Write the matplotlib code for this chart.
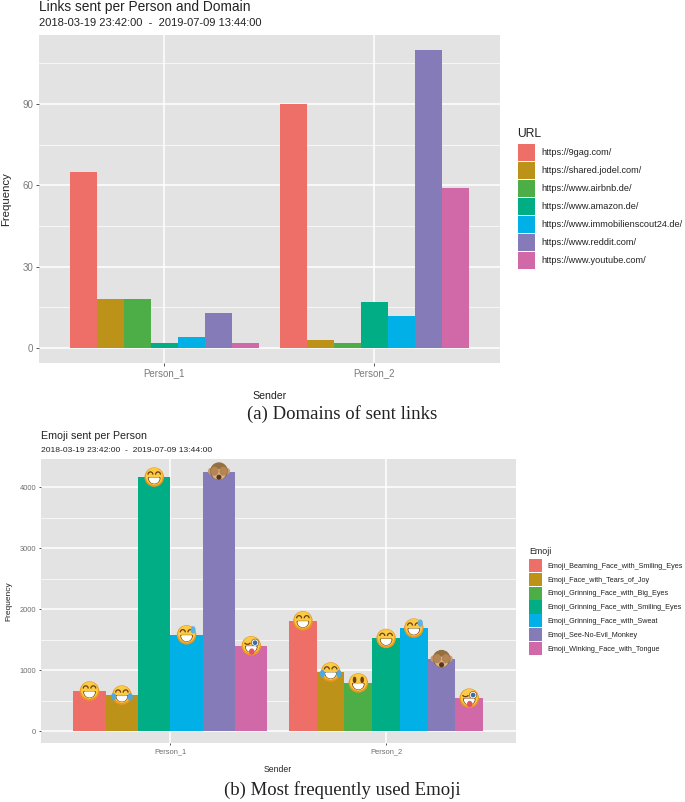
import matplotlib
matplotlib.use('Agg')
import matplotlib.pyplot as plt
from matplotlib.patches import Patch, Circle, Ellipse, Wedge, Arc
from matplotlib.offsetbox import AnnotationBbox, DrawingArea

plt.rcParams['font.family'] = ['Liberation Sans', 'DejaVu Sans']

W, H = 685, 802

people = ['Person_1', 'Person_2']
colors = ['#EE6F68', '#BD9218', '#4DAD46', '#00AD84', '#00B0E6', '#857BB8', '#D168A8']

urls = ['https://9gag.com/', 'https://shared.jodel.com/', 'https://www.airbnb.de/',
        'https://www.amazon.de/', 'https://www.immobilienscout24.de/',
        'https://www.reddit.com/', 'https://www.youtube.com/']
links_p1 = [65, 18, 18, 2, 4, 13, 2]
links_p2 = [90, 3, 2, 17, 12, 110, 59]

emoji_names = ['Emoji_Beaming_Face_with_Smiling_Eyes', 'Emoji_Face_with_Tears_of_Joy',
               'Emoji_Grinning_Face_with_Big_Eyes', 'Emoji_Grinning_Face_with_Smiling_Eyes',
               'Emoji_Grinning_Face_with_Sweat', 'Emoji_See-No-Evil_Monkey',
               'Emoji_Winking_Face_with_Tongue']
emoji_p1 = [657, 590, None, 4170, 1580, 4260, 1400]
emoji_p2 = [1810, 970, 790, 1520, 1690, 1180, 540]
emoji_kinds = ['beam', 'tears', 'big', 'smile', 'sweat', 'monkey', 'wink']


def px_axes(fig, left, top, right, bottom):
    return fig.add_axes([left / W, 1 - bottom / H, (right - left) / W, (bottom - top) / H])


def dodged_bars(ax, series, width=0.9):
    # like position_dodge: a missing group makes the others wider
    spots = []
    for i, vals in enumerate(series):
        present = [k for k, v in enumerate(vals) if v is not None]
        w = width / len(present)
        for n, k in enumerate(present):
            x = i - width / 2 + w * (n + 0.5)
            ax.bar(x, vals[k], w, color=colors[k], linewidth=0)
            spots.append((x, vals[k], k))
    return spots


def style_panel(ax, major, minor, ylim, tick_size, tick_color, tick_len):
    ax.set_facecolor('#E3E3E3')
    for s in ax.spines.values():
        s.set_visible(False)
    ax.set_axisbelow(True)
    ax.set_xlim(-0.6, 1.6)
    ax.set_ylim(*ylim)
    ax.set_xticks([0, 1], people)
    ax.set_yticks(major)
    ax.set_yticks(minor, minor=True)
    ax.grid(True, which='major', color='white', linewidth=1.1)
    ax.grid(True, which='minor', axis='y', color='white', linewidth=0.5)
    ax.tick_params(which='minor', length=0)
    ax.tick_params(which='major', labelsize=tick_size, labelcolor=tick_color, color='#555555',
                   length=tick_len, width=0.7, pad=2)


def emoji_art(kind, r=6.5):
    size = 2 * r + 6
    da = DrawingArea(size, size, 0, 0)
    c = size / 2
    dark = '#6B3F12'
    if kind == 'monkey':
        da.add_artist(Circle((c - r * 0.85, c + r * 0.05), r * 0.3, color='#C99B6E'))
        da.add_artist(Circle((c + r * 0.85, c + r * 0.05), r * 0.3, color='#C99B6E'))
        da.add_artist(Circle((c, c + r * 0.05), r * 0.9, color='#94703F'))
        da.add_artist(Ellipse((c, c - r * 0.3), r * 1.3, r * 1.0, color='#D8B48C'))
        da.add_artist(Ellipse((c - r * 0.48, c + r * 0.05), r * 0.72, r * 0.85, color='#B58654'))
        da.add_artist(Ellipse((c + r * 0.48, c + r * 0.05), r * 0.72, r * 0.85, color='#B58654'))
        da.add_artist(Ellipse((c, c - r * 0.62), r * 0.4, r * 0.4, color='#5A3418'))
        return da
    da.add_artist(Circle((c, c), r, color='#EE9A22'))
    da.add_artist(Circle((c, c + r * 0.08), r * 0.86, color='#FBCB45'))
    ex, ey = r * 0.42, r * 0.34
    if kind == 'big':
        da.add_artist(Ellipse((c - ex, c + ey), r * 0.24, r * 0.55, color=dark))
        da.add_artist(Ellipse((c + ex, c + ey), r * 0.24, r * 0.55, color=dark))
    elif kind == 'wink':
        da.add_artist(Arc((c - ex, c + ey), r * 0.6, r * 0.35, theta1=180, theta2=360, color=dark, lw=0.9))
        da.add_artist(Circle((c + ex, c + ey), r * 0.4, fc='white', ec=dark, lw=0.4))
        da.add_artist(Circle((c + ex, c + ey), r * 0.18, color='#3A6EA5'))
    else:
        da.add_artist(Arc((c - ex, c + ey * 0.8), r * 0.55, r * 0.6, theta1=0, theta2=180, color=dark, lw=0.9))
        da.add_artist(Arc((c + ex, c + ey * 0.8), r * 0.55, r * 0.6, theta1=0, theta2=180, color=dark, lw=0.9))
    # toothy mouth, thin dark rim around white
    da.add_artist(Wedge((c, c - r * 0.08), r * 0.62, 180, 360, color=dark))
    da.add_artist(Wedge((c, c - r * 0.12), r * 0.53, 180, 360, color='white'))
    if kind == 'tears':
        da.add_artist(Ellipse((c - r * 0.92, c - r * 0.2), r * 0.42, r * 0.66, color='#4FA8E0'))
        da.add_artist(Ellipse((c + r * 0.92, c - r * 0.2), r * 0.42, r * 0.66, color='#4FA8E0'))
    if kind == 'sweat':
        da.add_artist(Ellipse((c + r * 0.72, c + r * 0.55), r * 0.4, r * 0.66, color='#5AB4E8'))
    if kind == 'wink':
        da.add_artist(Ellipse((c + r * 0.05, c - r * 0.65), r * 0.45, r * 0.55, color='#E8506A'))
    return da


def add_legend(ax, labels, left, top, font, key_px, pitch_px, gap_px):
    font_px = font * 100 / 72
    handles = [Patch(facecolor=colors[i], edgecolor='none', label=labels[i]) for i in range(len(labels))]
    # matplotlib shrinks the handle box, hence the 0.65 and 0.245
    return ax.legend(handles=handles, loc='upper left',
                     bbox_to_anchor=(left / W, 1 - top / H), bbox_transform=ax.figure.transFigure,
                     frameon=False, fontsize=font, borderpad=0, borderaxespad=0,
                     handletextpad=gap_px / font_px, handlelength=key_px / font_px,
                     handleheight=(key_px / font_px - 0.245) / 0.65,
                     labelspacing=(pitch_px - key_px) / font_px, labelcolor='#222222')


fig = plt.figure(figsize=(W / 100, H / 100), dpi=100, facecolor='white')

# (a) links
ax1 = px_axes(fig, 38.5, 35, 500, 363)
dodged_bars(ax1, [links_p1, links_p2])
style_panel(ax1, [0, 30, 60, 90], [15, 45, 75, 105], (-5.5, 115.5), 7, '#7A7A7A', 2)
ax1.set_xlabel('Sender', fontsize=7.6, color='#222222', labelpad=9)
ax1.set_ylabel('Frequency', fontsize=8.2, color='#222222', labelpad=8)
fig.text(39 / W, 1 - 11 / H, 'Links sent per Person and Domain', fontsize=9.9, color='#222222', va='baseline')
fig.text(39 / W, 1 - 23.5 / H, '2018-03-19 23:42:00  -  2019-07-09 13:44:00', fontsize=8, color='#222222', va='center')
fig.text(517 / W, 1 - 134 / H, 'URL', fontsize=8.7, color='#222222', va='center')
add_legend(ax1, urls, 518, 144, 6.6, 17, 18, 6)

# (b) emoji
ax2 = px_axes(fig, 41, 459, 515.5, 743)
spots = dodged_bars(ax2, [emoji_p1, emoji_p2])
style_panel(ax2, [0, 1000, 2000, 3000, 4000], [500, 1500, 2500, 3500], (-197, 4467), 5.4, '#6E6E6E', 1.5)
for x, val, k in spots:
    ab = AnnotationBbox(emoji_art(emoji_kinds[k]), (x, val), frameon=False, pad=0, box_alignment=(0.5, 0.5))
    ax2.add_artist(ab)
ax2.set_xlabel('Sender', fontsize=6.2, color='#222222', labelpad=7)
ax2.set_ylabel('Frequency', fontsize=6, color='#222222', labelpad=5)
fig.text(41 / W, 1 - 436 / H, 'Emoji sent per Person', fontsize=7.7, color='#222222', va='center')
fig.text(41 / W, 1 - 450 / H, '2018-03-19 23:42:00  -  2019-07-09 13:44:00', fontsize=6.1, color='#222222', va='center')
fig.text(529 / W, 1 - 551 / H, 'Emoji', fontsize=6.4, color='#222222', va='center')
add_legend(ax2, emoji_names, 529, 559, 5.25, 13.2, 13.8, 5)

# captions
fig.text(342 / W, 1 - 414 / H, '(a) Domains of sent links', fontsize=13.5, family='Liberation Serif', ha='center', va='center', color='#222222')
fig.text(342 / W, 1 - 790 / H, '(b) Most frequently used Emoji', fontsize=13.5, family='Liberation Serif', ha='center', va='center', color='#222222')

fig.savefig('out.png', dpi=100, facecolor='white')
